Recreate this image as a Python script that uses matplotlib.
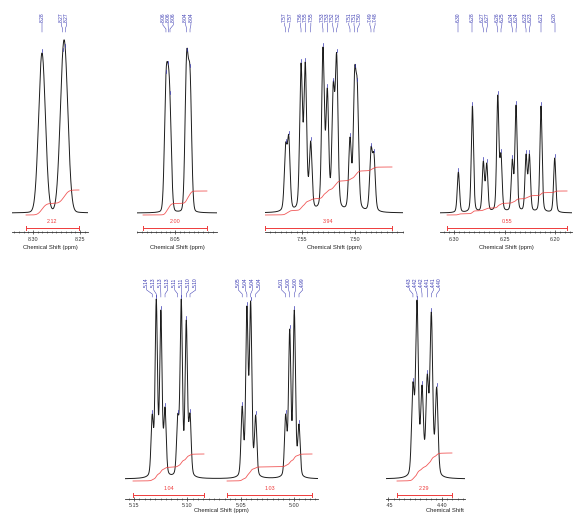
import numpy as np
import matplotlib
matplotlib.use("Agg")
import matplotlib.pyplot as plt
from matplotlib.ticker import FixedLocator, MultipleLocator
from matplotlib.transforms import Bbox, TransformedBbox

plt.rcParams["font.family"] = ["Liberation Sans", "DejaVu Sans"]

W, H = 578, 516

# ---------------------------------------------------------------------------
# peak lists: chemical shift (ppm), apex intensity (a.u.), printed label
# ---------------------------------------------------------------------------
P1_SHIFT = [8.2904, 8.2684, 8.2657]
P1_INT = [160, 161, 165]
P1_LABELS = ["8.28", "8.27", "8.27"]

P2_SHIFT = [8.0596, 8.0571, 8.0553, 8.0376, 8.0340]
P2_INT = [139, 148, 118, 161, 145]
P2_LABELS = ["8.06", "8.06", "8.06", "8.04", "8.04"]

P3_SHIFT = [7.5654, 7.5625, 7.5509, 7.5469, 7.5418, 7.5302, 7.5261,
            7.5205, 7.5173, 7.5047, 7.5003, 7.4978, 7.4849, 7.4821]
P3_INT = [70, 78, 150, 151, 72, 166, 125, 131, 160, 76, 145, 131, 66, 60]
P3_LABELS = ["7.57", "7.57", "7.56", "7.55", "7.55", "7.53", "7.53",
             "7.52", "7.52", "7.51", "7.51", "7.50", "7.49", "7.48"]

P4_SHIFT = [6.2957, 6.2818, 6.2710, 6.2676, 6.2567, 6.2535,
            6.2423, 6.2386, 6.2287, 6.2254, 6.2139, 6.2003]
P4_INT = [41, 107, 52, 50, 118, 60, 54, 108, 59, 59, 107, 55]
P4_LABELS = ["6.30", "6.28", "6.27", "6.27", "6.26", "6.25",
             "6.24", "6.24", "6.23", "6.23", "6.21", "6.20"]

P5_SHIFT = [5.1329, 5.1291, 5.1248, 5.1209, 5.1090, 5.1057, 5.1010, 5.0975,
            5.0486, 5.0442, 5.0407, 5.0360, 5.0079, 5.0041, 4.9998, 4.9954]
P5_INT = [65, 180, 169, 72, 65, 180, 159, 66,
          73, 173, 178, 64, 65, 150, 169, 55]
P5_LABELS = ["5.14", "5.13", "5.13", "5.13", "5.11", "5.11", "5.10", "5.10",
             "5.05", "5.04", "5.04", "5.04", "5.01", "5.00", "5.00", "4.99"]

P6_SHIFT = [4.4269, 4.4231, 4.4184, 4.4135, 4.4097, 4.4047]
P6_INT = [97, 179, 94, 105, 167, 92]
P6_LABELS = ["4.43", "4.42", "4.42", "4.41", "4.41", "4.40"]

# axis ticks (ppm) and their labels
P1_TICKS, P1_TICKLABELS = [8.30, 8.25], ["8.30", "8.25"]
P2_TICKS, P2_TICKLABELS = [8.05], ["8.05"]
P3_TICKS, P3_TICKLABELS = [7.55, 7.50], ["7.55", "7.50"]
P4_TICKS, P4_TICKLABELS = [6.30, 6.25, 6.20], ["6.30", "6.25", "6.20"]
P5_TICKS, P5_TICKLABELS = [5.15, 5.10, 5.05, 5.00], ["5.15", "5.10", "5.05", "5.00"]
P6_TICKS, P6_TICKLABELS = [4.45, 4.40], ["4.45", "4.40"]

# integrals: (from ppm, to ppm, value, curve rise)
P1_INTEG = [(8.3074, 8.2511, "2.12", 25)]
P2_INTEG = [(8.0840, 8.0160, "2.00", 24)]
P3_INTEG = [(7.5849, 7.4651, "3.94", 48)]
P4_INTEG = [(6.3069, 6.1881, "0.55", 24)]
P5_INTEG = [(5.1509, 5.0844, "1.04", 27), (5.0628, 4.9832, "1.03", 27)]
P6_INTEG = [(4.4418, 4.3904, "2.29", 28)]

BLUE = "#3434b0"
RED = "#ee3b3b"
INK = "#1c1c1c"

# layout: pixel box (left, right, top, axis line, baseline), x-limits, line shape
panels = [
    dict(sh=P1_SHIFT, it=P1_INT, lb=P1_LABELS, tk=P1_TICKS, tl=P1_TICKLABELS, ig=P1_INTEG,
         box=(12, 88, 0, 232, 213), xlim=(8.3223, 8.2415), fwhm=0.0085, eta=0.05, gap=5.4),
    dict(sh=P2_SHIFT, it=P2_INT, lb=P2_LABELS, tk=P2_TICKS, tl=P2_TICKLABELS, ig=P2_INTEG,
         box=(137, 217, 0, 232, 213), xlim=(8.0904, 8.0053), fwhm=0.0040, eta=0.1, gap=5.2),
    dict(sh=P3_SHIFT, it=P3_INT, lb=P3_LABELS, tk=P3_TICKS, tl=P3_TICKLABELS, ig=P3_INTEG,
         box=(265, 403, 0, 232, 213), xlim=(7.5849, 7.4547), fwhm=0.0030, eta=0.3, gap=5.2),
    dict(sh=P4_SHIFT, it=P4_INT, lb=P4_LABELS, tk=P4_TICKS, tl=P4_TICKLABELS, ig=P4_INTEG,
         box=(440, 572, 0, 232, 213), xlim=(6.3139, 6.1832), fwhm=0.0026, eta=0.3, gap=5.0),
    dict(sh=P5_SHIFT, it=P5_INT, lb=P5_LABELS, tk=P5_TICKS, tl=P5_TICKLABELS, ig=P5_INTEG,
         box=(125, 318, 262, 499, 479), xlim=(5.1584, 4.9776), fwhm=0.0026, eta=0.3, gap=7.0),
    dict(sh=P6_SHIFT, it=P6_INT, lb=P6_LABELS, tk=P6_TICKS, tl=P6_TICKLABELS, ig=P6_INTEG,
         box=(386, 465, 262, 499, 479), xlim=(4.4521, 4.3782), fwhm=0.0030, eta=0.3, gap=6.0,
         xlabel_x=0.85),
]


def pv(x, c, fwhm, eta):
    d = (x - c) / (fwhm / 2)
    return eta / (1 + d ** 2) + (1 - eta) * np.exp(-np.log(2) * d ** 2)


def spread(u, gap):
    # keep labels at least `gap` apart, centred on the peaks they belong to
    clusters = [[v] for v in u]
    merged = True
    while merged:
        merged = False
        for i in range(len(clusters) - 1):
            a, b = clusters[i], clusters[i + 1]
            a_r = np.mean(a) + (len(a) - 1) / 2 * gap
            b_l = np.mean(b) - (len(b) - 1) / 2 * gap
            if b_l - a_r < gap:
                clusters[i] = a + b
                del clusters[i + 1]
                merged = True
                break
    out = []
    for c in clusters:
        m, n = np.mean(c), len(c)
        out += [m + (k - (n - 1) / 2) * gap for k in range(n)]
    return np.array(out)


fig = plt.figure(figsize=(W / 100, H / 100), dpi=100)

for p in panels:
    left, right, top, axis_y, base_y = p["box"]
    toprow = top == 0
    ax = fig.add_axes([left / W, 1 - axis_y / H, (right - left) / W, (axis_y - top) / H])
    x0, x1 = p["xlim"]
    ax.set_xlim(x0, x1)
    ax.set_ylim(-(axis_y - base_y), base_y - top)
    ppm_per_px = (x0 - x1) / (right - left)

    sh = np.array(p["sh"])
    it = np.array(p["it"], dtype=float)
    # non-negative amplitudes so the summed curve reaches the read apex heights
    M = pv(sh[:, None], sh[None, :], p["fwhm"], p["eta"])
    amp = it.copy()
    for _ in range(400):
        amp = np.clip(amp + 0.5 * (it - M @ amp), 0, None)

    x = np.linspace(x0, x1, 3000)
    y = (amp[None, :] * pv(x[:, None], sh[None, :], p["fwhm"], p["eta"])).sum(axis=1)
    ax.plot(x, y, color=INK, lw=0.7, solid_joinstyle="round")

    # integrals
    for a, b, val, rise in p["ig"]:
        m = (x <= a) & (x >= b)
        cum = np.cumsum(y[m])
        cum = cum / cum[-1] * rise - 2
        ax.plot(x[m], cum, color=RED, lw=0.6, alpha=0.85)
        yb = -(axis_y - base_y) + 4
        ax.plot([a, b], [yb, yb], color=RED, lw=0.7)
        for e in (a, b):
            ax.plot([e, e], [yb - 2.2, yb + 2.2], color=RED, lw=0.7)
        ax.text((a + b) / 2, yb + 6.5, val, color=RED, fontsize=3.9,
                ha="center", va="center")

    # peak labels with leader lines
    lab_x = -spread(-sh, p["gap"] * ppm_per_px)
    y_text = base_y - 22 if toprow else base_y - 287
    l0, l1, l2, l3 = y_text - 1, y_text - 3, y_text - 7, y_text - 10
    for s, h, lx, lab in zip(sh, it, lab_x, p["lb"]):
        ax.text(lx, y_text, lab, rotation=90, ha="center", va="bottom",
                fontsize=3.5, color=BLUE, clip_on=False)
        ax.plot([lx, lx, s, s], [l0, l1, l2, l3], color=BLUE, lw=0.35,
                clip_on=False)
        ax.plot([s, s], [h + 1.5, h + 4.5], color=BLUE, lw=0.5, clip_on=False)

    # axis
    for side in ("left", "right", "top"):
        ax.spines[side].set_visible(False)
    ax.spines["bottom"].set_linewidth(0.6)
    ax.spines["bottom"].set_color("#333333")
    ax.set_yticks([])
    ax.xaxis.set_major_locator(FixedLocator(p["tk"]))
    ax.set_xticklabels(p["tl"])
    ax.xaxis.set_minor_locator(MultipleLocator(0.005))
    ax.tick_params(axis="x", which="major", direction="inout", length=3.2,
                   width=0.5, labelsize=3.9, pad=1.8 if toprow else 1.0,
                   colors="#333333")
    ax.tick_params(axis="x", which="minor", direction="inout", length=2.0,
                   width=0.4, colors="#333333")
    ax.set_xlabel("Chemical Shift (ppm)", fontsize=4.2,
                  labelpad=2.6 if toprow else 0.4, color="#222222")
    ax.patch.set_alpha(0)

    if "xlabel_x" in p:
        # this panel is cut off at both sides in the original layout
        clip = TransformedBbox(Bbox([[left / W, 0], [right / W, 1]]), fig.transFigure)
        ax.xaxis.set_label_coords(p["xlabel_x"], -9.0 / (axis_y - top))
        ax.xaxis.label.set_clip_on(True)
        ax.xaxis.label.set_clip_box(clip)
        for t in ax.xaxis.get_majorticklabels():
            t.set_clip_on(True)
            t.set_clip_box(clip)

fig.savefig("out.png", dpi=100, facecolor="white")
